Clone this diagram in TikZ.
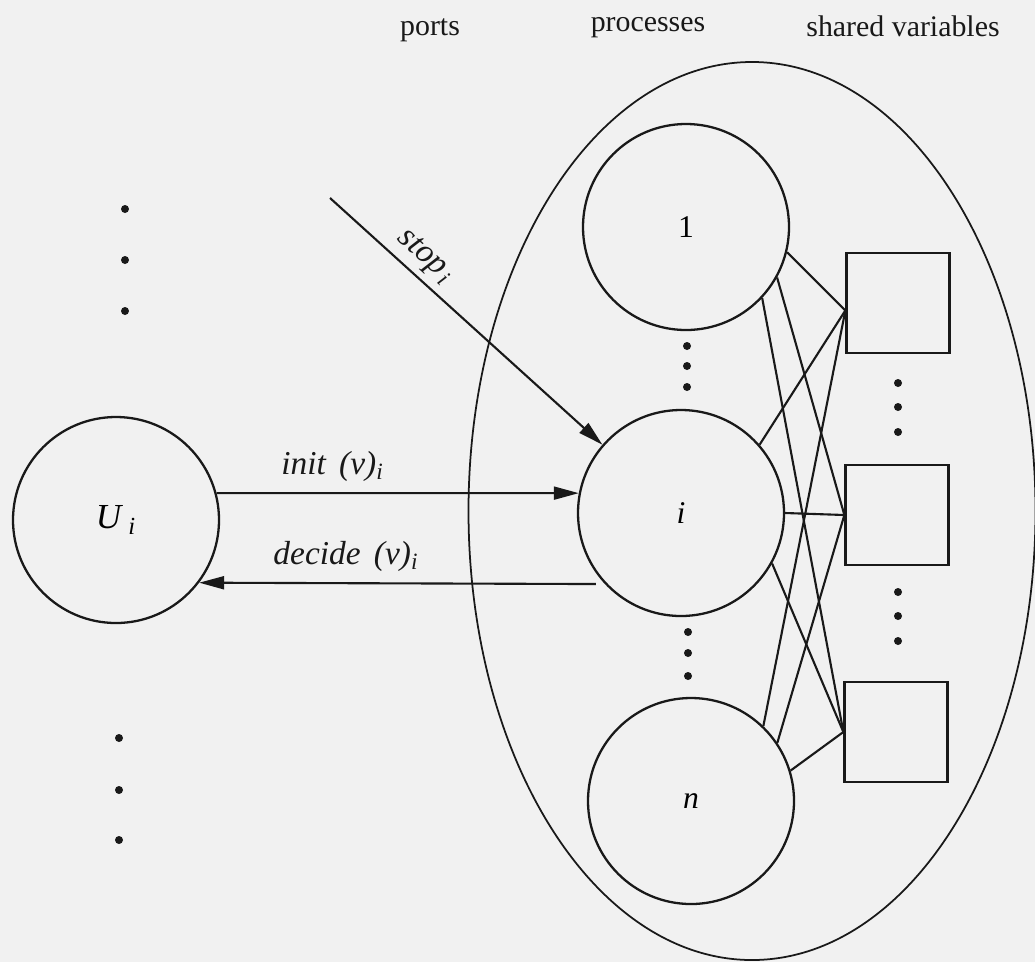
\documentclass[tikz,border=0pt]{standalone}
\usepackage{fontspec}
\setmainfont{Liberation Serif}
\usetikzlibrary{arrows.meta,shapes.geometric,calc}
\definecolor{paper}{RGB}{241,241,241}
\definecolor{ink}{RGB}{25,25,25}
\tikzset{
  proc/.style={draw=ink, circle, line width=1.3pt, inner sep=0pt, minimum size=41.2mm, font=\fontsize{18}{20}\selectfont},
  var/.style={draw=ink, rectangle, line width=1.3pt, inner sep=0pt, minimum width=20.6mm, minimum height=20mm},
  hd/.style={font=\fontsize{17}{20}\selectfont, text=ink},
  lab/.style={font=\fontsize{19}{22}\selectfont\itshape, text=ink},
  ar/.style={-{Triangle[length=5mm,width=2.6mm]}, draw=ink, line width=1.2pt},
  ln/.style={draw=ink, line width=1.2pt},
}
\begin{document}
\begin{tikzpicture}[x=0.2mm, y=-0.2mm]
\fill[paper] (0,0) rectangle (1035,962);
\useasboundingbox (0,0) rectangle (1035,962);
\node[hd] (hports) at (430,30) {ports};
\node[hd] (hproc) at (648,28) {processes};
\node[hd] (hvars) at (903,26) {shared variables};
\node[draw=ink, ellipse, line width=1pt, inner sep=0pt, minimum width=113.4mm, minimum height=179.6mm] (sys) at (752,511) {};
\node[proc] (p1) at (686,227) {1};
\node[proc] (pi) at (681,513) {\itshape i};
\node[proc] (pn) at (691,801) {\itshape n};
\node[proc, font=\fontsize{20}{22}\selectfont] (U) at (116,520) {\itshape U\hspace{0.2em}\textsubscript{i}};
\node[var] (s1) at (898,303) {};
\node[var] (s2) at (897,515) {};
\node[var] (s3) at (896,732) {};
\coordinate (stopsrc) at (330,198);
\draw[ar] (U.15) -- node[lab, above=1mm, pos=0.32] {init\hspace{0.15em} (v)\textsubscript{i}} (pi.169);
\draw[ar] ($(pi.223)+(-9,0)$) -- node[lab, above=1mm, pos=0.63] {decide\hspace{0.15em} (v)\textsubscript{i}} (U.323);
\draw[ar] (stopsrc) -- node[lab, sloped, above, pos=0.3] {stop\hspace{0.1em}\textsubscript{i}} (pi.139);
\foreach \a/\b in {p1.-14/s1.188, p1.-29/s2.west, p1.-43/s3.west, pi.41/s1.188, pi.0/s2.west, pi.-29/s3.west, pn.46/s1.188, pn.34/s2.west, pn.17/s3.west}
  \draw[ln] (\a) -- (\b);
\foreach \x/\y in {125/209,125/260,125/311,119/738,119/790,119/840,687/346,687/366,687/387,688/632,688/653,688/676,898/383,898/407,898/432,898/592,898/616,898/641}
  \fill[ink] (\x,\y) circle (0.8mm);
\end{tikzpicture}
\end{document}
